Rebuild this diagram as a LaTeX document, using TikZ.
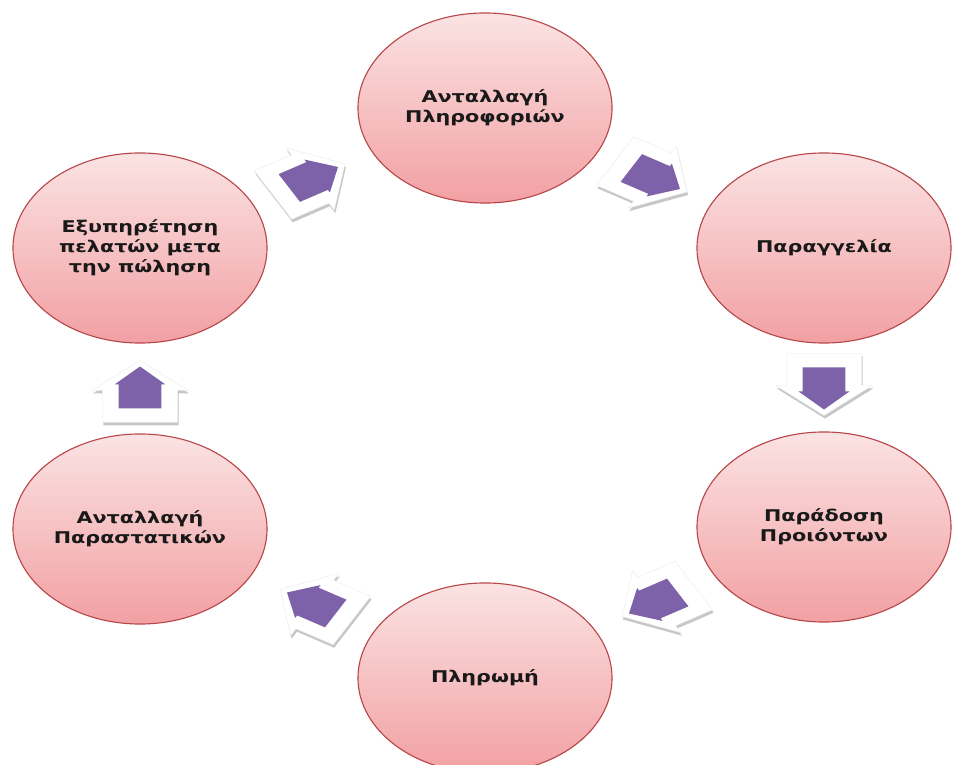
\documentclass[tikz,border=0pt]{standalone}
\usepackage{fontspec}
\newfontfamily\stagefont{DejaVu Sans}[FakeStretch=1.28]
\usetikzlibrary{shapes.geometric,calc}
\definecolor{stageedge}{HTML}{B8474A}
\definecolor{stagetop}{HTML}{FBE3E3}
\definecolor{stagebottom}{HTML}{F2A0A3}
\definecolor{flowpurple}{HTML}{7E62A9}
\tikzset{
  stage/.style={ellipse, draw=stageedge, line width=0.8pt, top color=stagetop, bottom color=stagebottom,
    minimum width=6.35cm, minimum height=4.75cm, inner sep=0pt, align=center, text=black!90,
    font=\stagefont\bfseries\fontsize{11.5}{14.2}\selectfont},
  flowshadow/.style={fill=black!22},
  flowwhite/.style={fill=white, draw=black!8, line width=0.3pt},
  flowfill/.style={fill=flowpurple}
}
\begin{document}
\begin{tikzpicture}[x=0.025cm, y=0.025cm]
\useasboundingbox (0,0) rectangle (954,764);

% the six stages
\node[stage] (info) at (485,656) {Ανταλλαγή\\Πληροφοριών};
\node[stage] (order) at (824,516) {Παραγγελία};
\node[stage] (delivery) at (824,237) {Παράδοση\\Προιόντων};
\node[stage] (payment) at (485,86) {Πληρωμή};
\node[stage] (docs) at (140,235) {Ανταλλαγή\\Παραστατικών};
\node[stage] (service) at (140,516) {Εξυπηρέτηση\\πελατών μετα\\την πώληση};

% block arrows between stages
\foreach \from/\to/\ang in {service/info/30, info/order/-30, order/delivery/-90,
                            delivery/payment/-150, payment/docs/150, docs/service/90}{
  \begin{scope}[shift={($(\from)!0.5!(\to)+(1,-3)$)}, xscale=1.34, rotate=\ang]
    \fill[flowshadow] (-34,-28) -- (-2,-28) -- (-2,-36) -- (28,0) -- (-2,36) -- (-2,28) -- (-34,28) -- cycle;
  \end{scope}
  \begin{scope}[shift={($(\from)!0.5!(\to)$)}, xscale=1.34, rotate=\ang]
    \filldraw[flowwhite] (-34,-28) -- (-2,-28) -- (-2,-36) -- (28,0) -- (-2,36) -- (-2,28) -- (-34,28) -- cycle;
    \fill[flowfill] (-20,-16) -- (4,-16) -- (4,-19) -- (22,0) -- (4,19) -- (4,16) -- (-20,16) -- cycle;
  \end{scope}
}
\end{tikzpicture}
\end{document}
